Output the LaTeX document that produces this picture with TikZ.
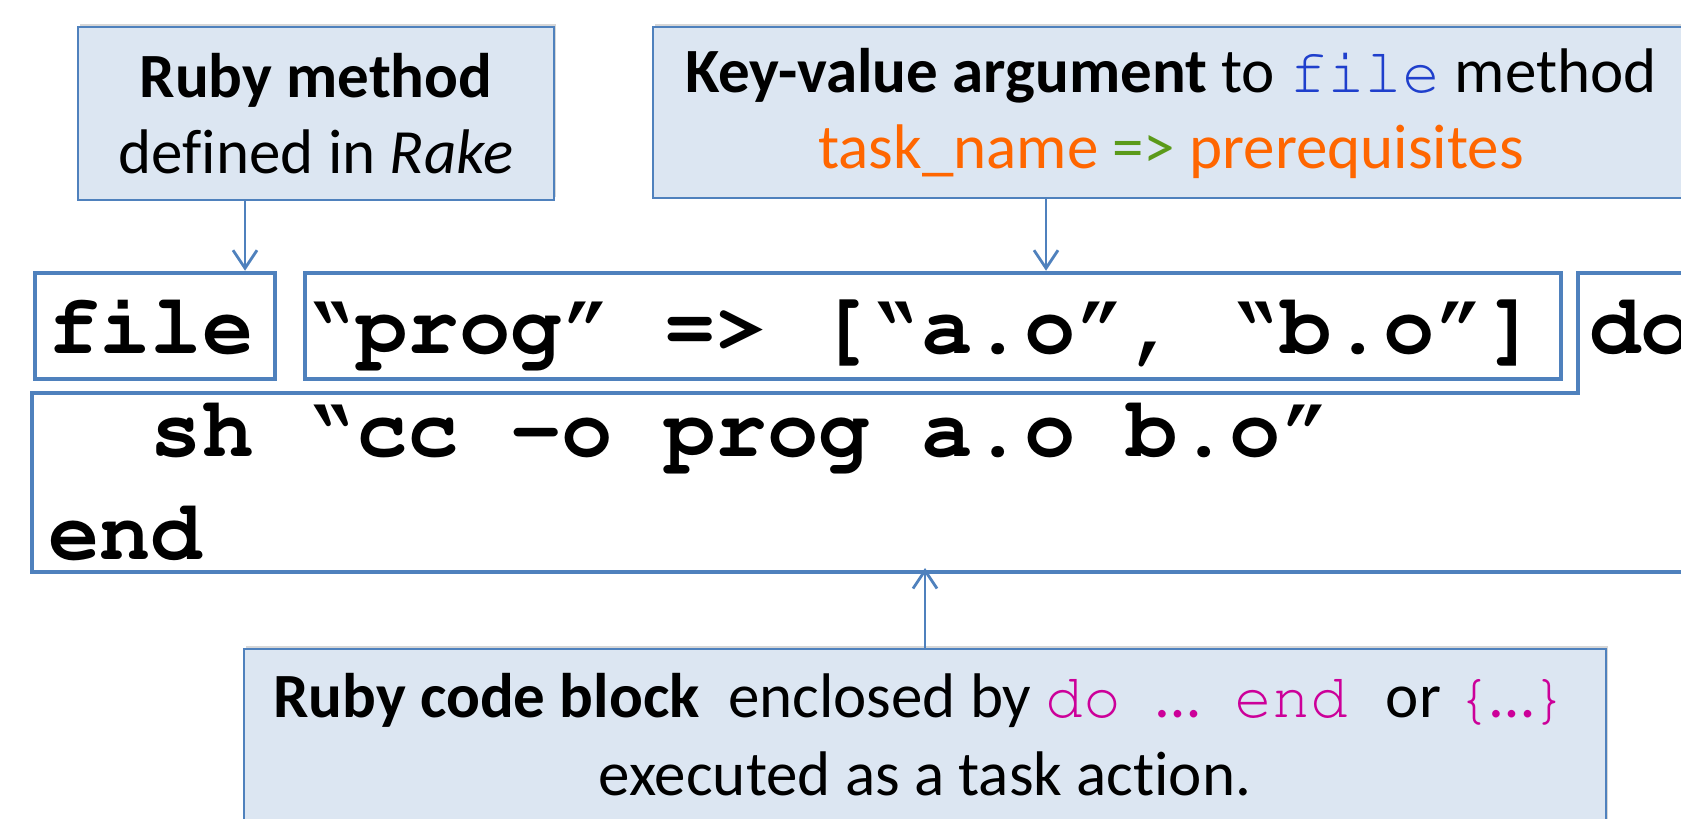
\documentclass[tikz,border=0pt]{standalone}
\usepackage[T1]{fontenc}
\usepackage{fontspec}
\setmainfont{Carlito}[Ligatures=NoCommon]
\usetikzlibrary{arrows.meta,shadows}

\definecolor{boxfill}{HTML}{DCE6F2}
\definecolor{boxline}{HTML}{4F81BD}
\definecolor{kwblue}{HTML}{1F3FCC}
\definecolor{kworange}{HTML}{FF6600}
\definecolor{kwgreen}{HTML}{5B9A1A}
\definecolor{kwmagenta}{HTML}{CC0099}

% Courier (Type 1, T1 encoding) for program text
\newcommand{\courfam}{\fontencoding{T1}\fontfamily{pcr}\selectfont}
\newcommand{\cour}[1]{{\courfam #1}}
\newcommand{\oq}{\textquotedblleft}
\newcommand{\cq}{\textquotedblright}
% an ellipsis (from the text font) occupying one Courier cell
\newcommand{\cellipsis}{\makebox[0.6em]{\normalfont …}}

\tikzset{
  callout/.style={draw=boxline, line width=2.5pt, fill=boxfill, inner sep=0pt,
    drop shadow={shadow xshift=2pt, shadow yshift=3pt, fill=black!35, opacity=0.45}},
  codebox/.style={draw=boxline, line width=4.5pt, inner sep=0pt},
  codeline/.style={anchor=base west, inner sep=0pt,
    font=\courfam\bfseries\fontsize{85.6}{100}\selectfont},
  note/.style={anchor=base, inner sep=0pt, font=\fontsize{63}{76}\selectfont},
  pointer/.style={draw=boxline, line width=2.8pt,
    -{Straight Barb[length=18pt,width=24pt,line width=2.8pt]}}
}

\begin{document}
\begin{tikzpicture}[x=1pt,y=-1pt]
\useasboundingbox (0,0) rectangle (1681,819);
\clip (0,0) rectangle (1681,819);

% callout boxes
\node[callout, minimum width=476pt, minimum height=173pt] (rm) at (316,113.5) {};
\node[callout, minimum width=1036pt, minimum height=171pt] (kv) at (1171,112.5) {};
\node[callout, minimum width=1362pt, minimum height=200pt] (cb) at (925,749) {};

% callout texts
\node[note] (rm1) at (316,97) {\textbf{Ruby method}};
\node[note] (rm2) at (316,173) {defined in \textit{Rake}};
\node[note] (kv1) at (1171,92) {\textbf{Key-value argument} to \textcolor{kwblue}{\cour{file}} method};
\node[note] (kv2) at (1171,168) {\textcolor{kworange}{task\_name} \textcolor{kwgreen}{=>} \textcolor{kworange}{prerequisites}};
\node[note] (cb1) at (921,717) {\textbf{Ruby code block}\ \ enclosed by \textcolor{kwmagenta}{\cour{do\ \cellipsis\ end\ }}or \textcolor{kwmagenta}{\cour{\{\cellipsis\}}}};
\node[note] (cb2) at (925,795) {executed as a task action.};

% code boxes
\node[codebox, minimum width=240pt, minimum height=106pt] (filebox) at (155,326) {};
\node[codebox, minimum width=1256pt, minimum height=106pt] (argbox) at (933,326) {};
\draw[boxline, line width=4.5pt, line join=miter]
  (1578,273) -- (1720,273) -- (1720,572) -- (32,572) -- (32,393) -- (1578,393) -- cycle;
\coordinate (blockbot) at (925,572);

% code lines
\node[codeline] (l1) at (48,353) {file \oq prog\cq\ => [\oq a.o\cq, \oq b.o\cq] do};
\node[codeline] (l2) at (48,456) {\ \ sh \oq cc \textendash o prog a.o b.o\cq};
\node[codeline] (l3) at (48,559) {end};

% pointers
\draw[pointer] (rm.south -| 245,0) -- (filebox.north -| 245,0);
\draw[pointer] (kv.south -| 1046,0) -- (argbox.north -| 1046,0);
\draw[pointer] (cb.north) -- ([yshift=4pt]blockbot);
\end{tikzpicture}
\end{document}
